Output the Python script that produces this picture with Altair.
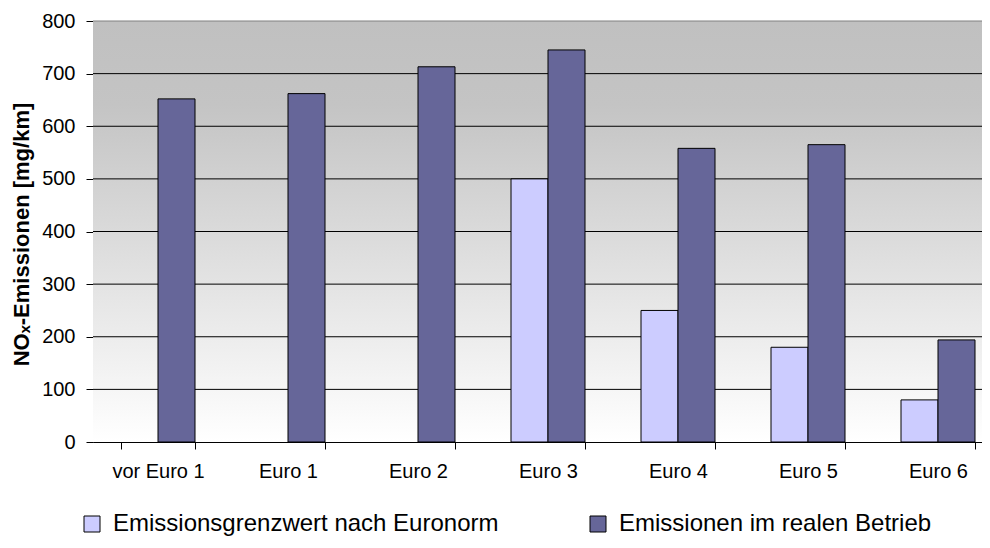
import altair as alt
import pandas as pd

categories = ["vor Euro 1", "Euro 1", "Euro 2", "Euro 3", "Euro 4", "Euro 5", "Euro 6"]
series_names = ["Emissionsgrenzwert nach Euronorm", "Emissionen im realen Betrieb"]
limit_values = [None, None, None, 500, 250, 180, 80]
real_values = [652, 662, 713, 745, 558, 565, 194]
y_ticks = [0, 100, 200, 300, 400, 500, 600, 700, 800]
series_colors = ["#ccccff", "#666699"]

rows = []
for c, lv, rv in zip(categories, limit_values, real_values):
    if lv is not None:
        rows.append({"cat": c, "series": series_names[0], "value": lv})
    rows.append({"cat": c, "series": series_names[1], "value": rv})
df = pd.DataFrame(rows)
grid_df = pd.DataFrame({"value": y_ticks[1:]})
bg_df = pd.DataFrame({"k": [0]})

W, H = 889, 421
STEP = 130
FONT = "Liberation Sans"

y_axis = alt.Axis(
    values=y_ticks, grid=False, tickSize=7, tickColor="black", domainColor="black",
    labelFont=FONT, labelFontSize=20, labelColor="black", labelPadding=11,
    title="NOₓ-Emissionen [mg/km]", titleFont=FONT, titleFontSize=22,
    titleFontWeight="bold", titleColor="black", titleX=-72, titleY=213,
    titleAlign="center", titleBaseline="middle", titleAngle=270,
)
y_scale = alt.Scale(domain=[0, 800], nice=False)

bg = alt.Chart(bg_df).mark_rect(
    fill=alt.Gradient(
        gradient="linear", x1=0, y1=0, x2=0, y2=1,
        stops=[
            alt.GradientStop(offset=0, color="#c0c0c0"),
            alt.GradientStop(offset=0.2, color="#c4c4c4"),
            alt.GradientStop(offset=1, color="#ffffff"),
        ],
    )
).encode(x=alt.value(0), x2=alt.value(W + 20), y=alt.value(0), y2=alt.value(H))

grid = alt.Chart(grid_df).mark_rule(strokeWidth=1).encode(
    y=alt.Y("value:Q", scale=y_scale, axis=y_axis),
    x=alt.value(0),
    x2=alt.value(W + 20),
    color=alt.condition("datum.value == 800", alt.value("#808080"), alt.value("#000000")),
)

bars = alt.Chart(df).mark_bar(stroke="black", strokeWidth=1, opacity=1).encode(
    x=alt.X(
        "cat:N", sort=categories,
        scale=alt.Scale(range=[0, STEP * len(categories)], paddingInner=56 / 130, paddingOuter=28 / 130),
        axis=alt.Axis(
            title=None, labelAngle=0, tickBand="extent", tickSize=7, tickColor="black",
            domainColor="black", labelFont=FONT, labelFontSize=20, labelColor="black",
            labelPadding=12, grid=False,
        ),
    ),
    xOffset=alt.XOffset("series:N", sort=series_names, scale=alt.Scale(domain=series_names)),
    y=alt.Y("value:Q", scale=y_scale, axis=y_axis),
    color=alt.Color(
        "series:N",
        scale=alt.Scale(domain=series_names, range=series_colors),
        legend=alt.Legend(
            title=None, orient="none", legendX=-13, legendY=491, direction="horizontal",
            columns=2, columnPadding=87, labelFont=FONT, labelFontSize=24, labelColor="black",
            labelLimit=600, symbolType="square", symbolSize=256, symbolStrokeColor="black",
            symbolStrokeWidth=1, symbolOpacity=1, labelOffset=9,
        ),
    ),
)

chart = alt.layer(bg, grid, bars).properties(
    width=W, height=H,
    autosize=alt.AutoSizeParams(type="none"),
    padding={"left": 85, "top": 13, "right": 0, "bottom": 98},
    background="white",
).configure_view(stroke=None)

chart.save("out.html", embed_options={"renderer": "svg", "actions": False})
